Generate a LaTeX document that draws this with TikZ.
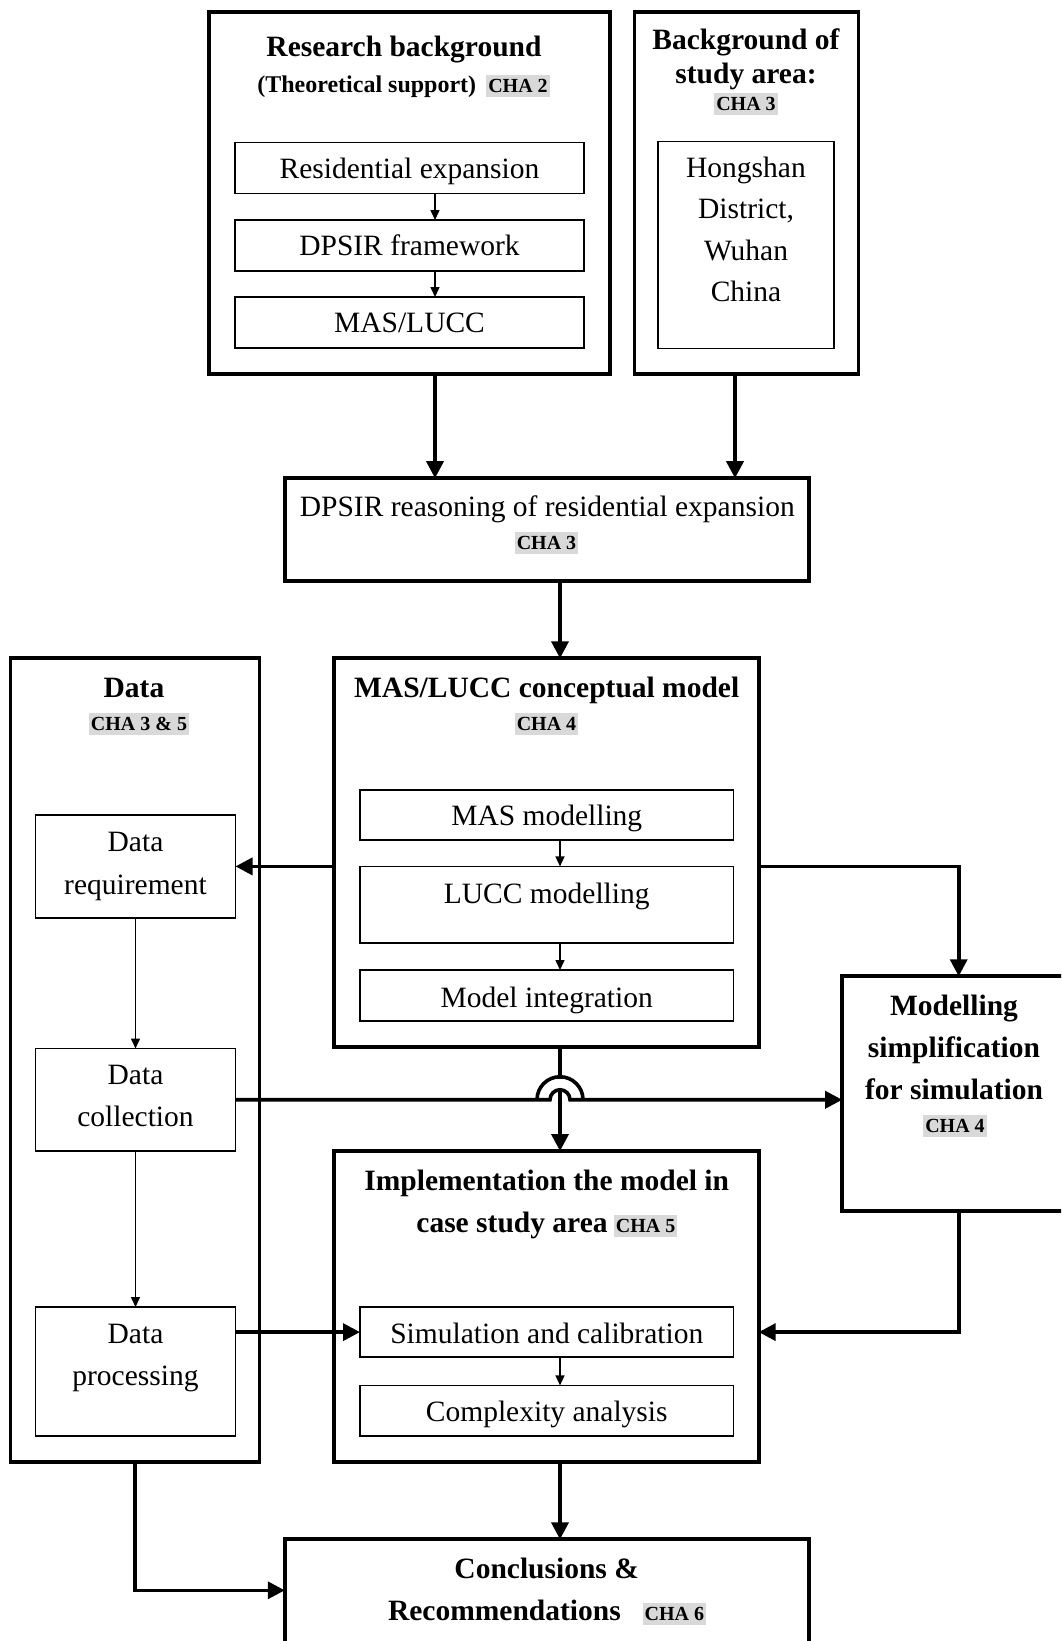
\documentclass[tikz,border=0pt]{standalone}
\usepackage{fontspec}
\setmainfont{Liberation Serif}
\usetikzlibrary{arrows.meta}
\definecolor{chagray}{RGB}{217,217,217}
\begin{document}
\begin{tikzpicture}[x=1pt,y=-1pt,
  outerbox/.style={draw, line width=3.8pt, inner sep=0pt, outer sep=0pt},
  innerbox/.style={draw, line width=1.8pt, inner sep=0pt, outer sep=0pt},
  body/.style={font=\fontsize{29.5}{35}\selectfont, anchor=base, inner sep=0pt},
  head/.style={font=\fontsize{29.5}{35}\selectfont\bfseries, anchor=base, inner sep=0pt},
  subhead/.style={font=\fontsize{24}{28}\selectfont\bfseries, anchor=base, inner sep=0pt},
  cha/.style={fill=chagray, font=\fontsize{20}{24}\selectfont\bfseries, anchor=base,
    inner xsep=2pt, inner ysep=0pt, text height=17pt, text depth=5pt},
  bigarrow/.style={line width=3.6pt, -{Triangle[length=17pt,width=17pt]}},
  smallarrow/.style={line width=1.5pt, -{Triangle[length=10pt,width=9pt]}},
]
\useasboundingbox (0,0) rectangle (1061,1641);
\clip (0,0) rectangle (1061,1641);

% connector columns
\coordinate (colA) at (435,0);
\coordinate (colB) at (560,0);
\coordinate (colC) at (735,0);

% ---- research background ----
\node[outerbox, minimum width=401pt, minimum height=362pt] (rb) at (409.8,192.6) {};
\node[head] (rbtitle) at (404,56) {Research background};
\node[subhead] (rbsub) at (366.8,92) {(Theoretical support)};
\node[cha] (rbcha) at (518,92) {CHA 2};
\node[innerbox, minimum width=349pt, minimum height=51pt] (re) at (409.5,168) {};
\node[body] (ret) at (409.5,178) {Residential expansion};
\node[innerbox, minimum width=349pt, minimum height=51pt] (df) at (409.5,245.5) {};
\node[body] (dft) at (409.5,255.5) {DPSIR framework};
\node[innerbox, minimum width=349pt, minimum height=51pt] (ml) at (409.5,322.5) {};
\node[body] (mlt) at (409.5,332.5) {MAS/LUCC};

% ---- study area ----
\node[outerbox, minimum width=224pt, minimum height=362pt] (bsa) at (746.4,192.6) {};
\node[head] (bsat1) at (746,49) {Background of};
\node[head] (bsat2) at (746,83) {study area:};
\node[cha] (bsacha) at (746,110) {CHA 3};
\node[innerbox, minimum width=176pt, minimum height=207pt] (hw) at (746,245) {};
\node[body] (hw1) at (746,177) {Hongshan};
\node[body] (hw2) at (746,218.5) {District,};
\node[body] (hw3) at (746,260) {Wuhan};
\node[body] (hw4) at (746,301.5) {China};

% ---- DPSIR reasoning ----
\node[outerbox, minimum width=524pt, minimum height=102.6pt] (dr) at (546.75,529.5) {};
\node[body] (drt) at (547.3,516) {DPSIR reasoning of residential expansion};
\node[cha] (drcha) at (546.5,549) {CHA 3};

% ---- conceptual model ----
\node[outerbox, minimum width=425pt, minimum height=389pt] (mas) at (546.2,852.8) {};
\node[head] (mast) at (546.7,697) {MAS/LUCC conceptual model};
\node[cha] (mascha) at (546.5,730) {CHA 4};
\node[innerbox, minimum width=373.5pt, minimum height=50.3pt] (mm) at (546.75,815.15) {};
\node[body] (mmt) at (546.75,825) {MAS modelling};
\node[innerbox, minimum width=373.5pt, minimum height=76.4pt] (lm) at (546.75,904.6) {};
\node[body] (lmt) at (546.75,903.5) {LUCC modelling};
\node[innerbox, minimum width=373.5pt, minimum height=51.3pt] (mi) at (546.75,995.65) {};
\node[body] (mit) at (546.75,1007) {Model integration};

% ---- data ----
\node[outerbox, minimum width=249pt, minimum height=804pt] (data) at (135,1060.1) {};
\node[head] (datat) at (134,697) {Data};
\node[cha] (datacha) at (139,730) {CHA 3 \& 5};
\node[innerbox, minimum width=200pt, minimum height=102.6pt] (dq) at (135.5,866.4) {};
\node[body] (dq1) at (135.5,851) {Data};
\node[body] (dq2) at (135.5,894) {requirement};
\node[innerbox, minimum width=200pt, minimum height=102.5pt] (dc) at (135.5,1099.75) {};
\node[body] (dc1) at (135.5,1084.5) {Data};
\node[body] (dc2) at (135.5,1126.5) {collection};
\node[innerbox, minimum width=200pt, minimum height=128.7pt] (dp) at (135.5,1371.35) {};
\node[body] (dp1) at (135.5,1343) {Data};
\node[body] (dp2) at (135.5,1385) {processing};

% ---- simplification ----
\node[outerbox, minimum width=233pt, minimum height=234.4pt] (ms) at (958.7,1093.5) {};
\node[head] (ms1) at (954,1015.6) {Modelling};
\node[head] (ms2) at (954,1057.4) {simplification};
\node[head] (ms3) at (954,1099) {for simulation};
\node[cha] (mscha) at (955,1132) {CHA 4};

% ---- implementation ----
\node[outerbox, minimum width=425pt, minimum height=310.8pt] (im) at (546.2,1306.4) {};
\node[head] (im1) at (546.7,1190) {Implementation the model in};
\node[head] (im2) at (512,1232) {case study area};
\node[cha] (imcha) at (645.6,1232) {CHA 5};
\node[innerbox, minimum width=373.5pt, minimum height=50.2pt] (sc) at (546.75,1332.1) {};
\node[body] (sct) at (546.75,1343) {Simulation and calibration};
\node[innerbox, minimum width=373.5pt, minimum height=50.3pt] (ca) at (546.75,1410.55) {};
\node[body] (cat) at (546.75,1421.6) {Complexity analysis};

% ---- conclusions ----
\node[outerbox, minimum width=524pt, minimum height=160.7pt] (cr) at (546.75,1619.65) {};
\node[head] (cr1) at (546.7,1578.6) {Conclusions \&};
\node[head] (cr2) at (504.4,1620.4) {Recommendations};
\node[cha] (crcha) at (674.4,1620.4) {CHA 6};

% ---- thin connectors inside boxes ----
\draw[smallarrow] (re.south -| colA) -- (df.north -| colA);
\draw[smallarrow] (df.south -| colA) -- (ml.north -| colA);
\draw[smallarrow] (mm.south -| colB) -- (lm.north -| colB);
\draw[smallarrow] (lm.south -| colB) -- (mi.north -| colB);
\draw[smallarrow] (sc.south -| colB) -- (ca.north -| colB);
\draw[smallarrow] (dq.south) -- (dc.north);
\draw[smallarrow] (dc.south) -- (dp.north);

% ---- main connectors ----
\draw[bigarrow] (rb.south -| colA) -- (dr.north -| colA);
\draw[bigarrow] (bsa.south -| colC) -- (dr.north -| colC);
\draw[bigarrow] (dr.south -| colB) -- (mas.north -| colB);
\draw[bigarrow] (dq.east -| mas.west) -- (dq.east);
\draw[bigarrow] (dq.east -| mas.east) -- (dq.east -| ms.north) -- (ms.north);
\draw[bigarrow] (mas.south -| colB) -- (im.north -| colB);
\draw[bigarrow] (sc.west -| dp.east) -- (sc.west);
\draw[bigarrow] (ms.south) -- (ms.south |- sc.east) -- (im.east |- sc.east);
\draw[bigarrow] (im.south -| colB) -- (cr.north -| colB);
\draw[bigarrow] (data.south) |- ([yshift=-51pt]cr.north west);

% collection -> simplification, jumping over the vertical line
\coordinate (hop) at (dc.east -| colB);
\fill[white] ([xshift=-21pt]hop) arc[start angle=180, end angle=0, radius=21pt]
  -- ([xshift=12pt]hop) arc[start angle=0, end angle=180, radius=12pt] -- cycle;
\draw[bigarrow] (dc.east) -- ([xshift=-10pt]hop)
  arc[start angle=180, end angle=0, radius=10pt] -- (dc.east -| ms.west);
\draw[line width=3.6pt] ([xshift=-23pt]hop) arc[start angle=180, end angle=0, radius=23pt];
\end{tikzpicture}
\end{document}
